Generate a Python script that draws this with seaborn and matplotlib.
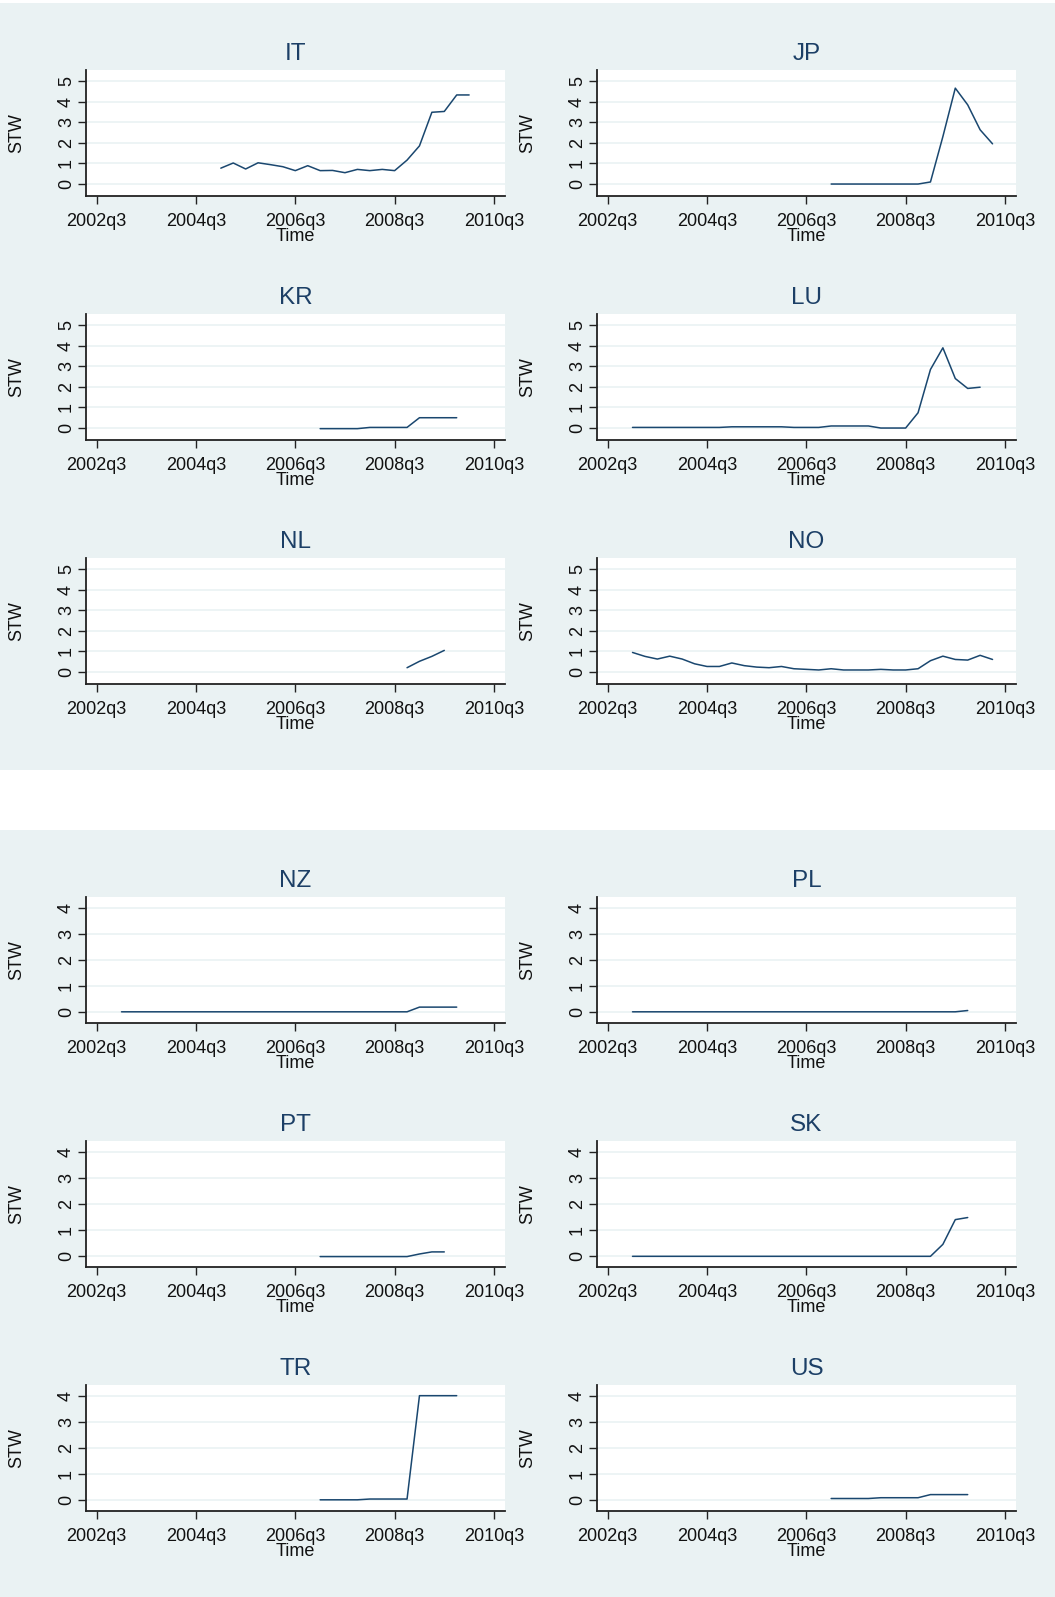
import matplotlib
matplotlib.use('Agg')
import matplotlib.pyplot as plt
from matplotlib.patches import Rectangle
import pandas as pd
import seaborn as sns

# ---------------------------------------------------------------------------
# data (STW by quarter)
tick_labels = ['2002q3', '2004q3', '2006q3', '2008q3', '2010q3']

top_countries = ['IT', 'JP', 'KR', 'LU', 'NL', 'NO']
bottom_countries = ['NZ', 'PL', 'PT', 'SK', 'TR', 'US']

it_start = '2005q1'
it_stw = [0.77, 1.02, 0.73, 1.03, 0.94, 0.84, 0.65, 0.89, 0.65, 0.66, 0.55,
          0.71, 0.65, 0.71, 0.65, 1.16, 1.85, 3.48, 3.52, 4.32, 4.32]

jp_start = '2007q1'
jp_stw = [0, 0, 0, 0, 0, 0, 0, 0, 0.1, 2.3, 4.65, 3.84, 2.63, 1.95]

kr_start = '2007q1'
kr_stw = [-0.03, -0.03, -0.03, -0.03, 0.03, 0.03, 0.03, 0.03, 0.5, 0.5, 0.5, 0.5]

lu_start = '2003q1'
lu_stw = [0.03, 0.03, 0.03, 0.03, 0.03, 0.03, 0.03, 0.03, 0.06, 0.06, 0.06,
          0.06, 0.06, 0.03, 0.03, 0.03, 0.1, 0.1, 0.1, 0.1, 0.0, 0.0, 0.0,
          0.74, 2.84, 3.89, 2.4, 1.92, 1.98]

nl_start = '2008q4'
nl_stw = [0.21, 0.52, 0.76, 1.05]

no_start = '2003q1'
no_stw = [0.95, 0.76, 0.63, 0.77, 0.63, 0.40, 0.27, 0.27, 0.44, 0.31, 0.24,
          0.21, 0.27, 0.16, 0.13, 0.10, 0.16, 0.10, 0.10, 0.10, 0.13, 0.10,
          0.10, 0.16, 0.55, 0.77, 0.61, 0.58, 0.81, 0.61]

nz_start = '2003q1'
nz_stw = [0, 0, 0, 0, 0, 0, 0, 0, 0, 0, 0, 0, 0, 0, 0, 0, 0, 0, 0, 0, 0, 0,
          0, 0, 0.18, 0.18, 0.18, 0.18]

pl_start = '2003q1'
pl_stw = [0, 0, 0, 0, 0, 0, 0, 0, 0, 0, 0, 0, 0, 0, 0, 0, 0, 0, 0, 0, 0, 0,
          0, 0, 0, 0, 0, 0.05]

pt_start = '2007q1'
pt_stw = [-0.03, -0.03, -0.03, -0.03, -0.03, -0.03, -0.03, -0.03, 0.07, 0.15, 0.15]

sk_start = '2003q1'
sk_stw = [-0.02, -0.02, -0.02, -0.02, -0.02, -0.02, -0.02, -0.02, -0.02,
          -0.02, -0.02, -0.02, -0.02, -0.02, -0.02, -0.02, -0.02, -0.02,
          -0.02, -0.02, -0.02, -0.02, -0.02, -0.02, -0.02, 0.44, 1.39, 1.47]

tr_start = '2007q1'
tr_stw = [0, 0, 0, 0, 0.03, 0.03, 0.03, 0.03, 4.0, 4.0, 4.0, 4.0]

us_start = '2007q1'
us_stw = [0.05, 0.05, 0.05, 0.05, 0.08, 0.08, 0.08, 0.08, 0.2, 0.2, 0.2, 0.2]

series = {'IT': (it_start, it_stw), 'JP': (jp_start, jp_stw),
          'KR': (kr_start, kr_stw), 'LU': (lu_start, lu_stw),
          'NL': (nl_start, nl_stw), 'NO': (no_start, no_stw),
          'NZ': (nz_start, nz_stw), 'PL': (pl_start, pl_stw),
          'PT': (pt_start, pt_stw), 'SK': (sk_start, sk_stw),
          'TR': (tr_start, tr_stw), 'US': (us_start, us_stw)}


def tq(label):
    # Stata quarterly date number
    year, q = label.split('q')
    return (int(year) - 1960) * 4 + int(q) - 1


rows = []
for c, (start, vals) in series.items():
    for i, v in enumerate(vals):
        rows.append({'country': c, 'Time': tq(start) + i, 'STW': v})
df = pd.DataFrame(rows)

# ---------------------------------------------------------------------------
BG = '#EAF2F3'
NAVY = '#1a476f'
W, H = 1055, 1597

sns.set_style('white')
plt.rcParams['font.family'] = ['Liberation Sans', 'DejaVu Sans']

fig = plt.figure(figsize=(W / 100, H / 100), dpi=100)
fig.patch.set_facecolor('white')

panel_h = 767
for top in (3, 830):
    fig.patches.append(Rectangle((0, 1 - (top + panel_h) / H), 1, panel_h / H,
                                 transform=fig.transFigure, facecolor=BG,
                                 edgecolor='none', zorder=-1))

ax_w, ax_h = 419, 126
col_left = [86, 597]
row_top = [70, 314, 558]

xticks = [tq(t) for t in tick_labels]


def draw_panel(ax, country, ymax):
    d = df[df['country'] == country]
    ax.set_facecolor('white')
    sns.lineplot(data=d, x='Time', y='STW', ax=ax, color=NAVY, linewidth=1.1,
                 estimator=None)
    ax.set_xlim(169.14, 202.89)
    if ymax == 5:
        ax.set_ylim(-0.58, 5.53)
    else:
        ax.set_ylim(-0.43, 4.41)
    ax.set_yticks(range(0, ymax + 1))
    ax.set_xticks(xticks)
    ax.set_xticklabels(tick_labels)
    ax.grid(axis='y', color=BG, linewidth=1.2)
    ax.grid(axis='x', visible=False)
    ax.set_axisbelow(True)
    for s in ['top', 'right']:
        ax.spines[s].set_visible(False)
    for s in ['left', 'bottom']:
        ax.spines[s].set_color('#222222')
        ax.spines[s].set_linewidth(1.3)
    ax.tick_params(axis='both', labelsize=13, length=6, width=1,
                   color='#222222', labelcolor='#111111', bottom=True, left=True)
    ax.tick_params(axis='y', labelrotation=90, pad=2)
    for lab in ax.get_yticklabels():
        lab.set_va('center')
    ax.tick_params(axis='x', pad=6.5)
    ax.set_title(country, fontsize=17.5, color='#1c3f66', pad=7)
    ax.set_xlabel('Time', fontsize=13, labelpad=-1.5, color='#111111')
    ax.set_ylabel('STW', fontsize=13, va='center', ha='center', color='#111111')
    ax.yaxis.set_label_coords(-69 / ax_w, 0.5)


for block, (countries, ymax, offset) in enumerate(
        [(top_countries, 5, 0), (bottom_countries, 4, 827)]):
    for k, c in enumerate(countries):
        r, col = divmod(k, 2)
        top = row_top[r] + offset
        ax = fig.add_axes([col_left[col] / W, 1 - (top + ax_h) / H,
                           ax_w / W, ax_h / H])
        draw_panel(ax, c, ymax)

fig.savefig('out.png', dpi=100)
